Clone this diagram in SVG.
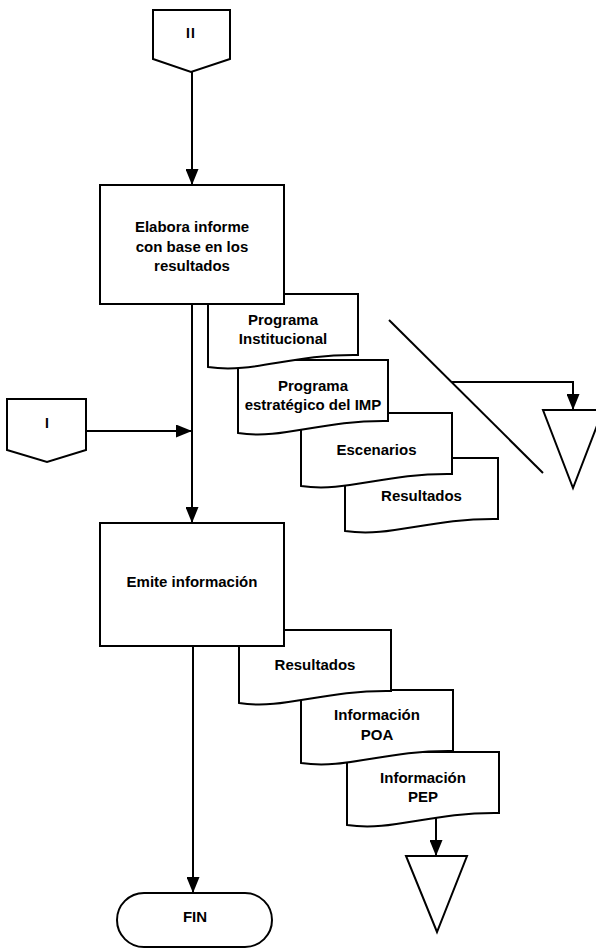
<svg xmlns="http://www.w3.org/2000/svg" width="596" height="950" viewBox="0 0 596 950">
  <style>
    .shape { fill: #ffffff; stroke: #000000; stroke-width: 2; stroke-linejoin: miter; }
    .line { fill: none; stroke: #000000; stroke-width: 2; }
    .arrow { marker-end: url(#head); }
    text { font-family: "Liberation Sans", Arial, sans-serif; font-weight: bold; font-size: 15px; fill: #000000; text-anchor: middle; }
    .conn-label { font-size: 14px; }
  </style>
  <defs>
    <marker id="head" markerUnits="userSpaceOnUse" viewBox="0 0 16 13" markerWidth="16" markerHeight="13" refX="16" refY="6.5" orient="auto">
      <path d="M0,0 L16,6.5 L0,13 Z" fill="#000000"/>
    </marker>
  </defs>

  <rect width="596" height="950" fill="#ffffff"/>

  <!-- connectors -->
  <g id="connectors">
    <path class="line arrow" d="M192,72 V185"/>
    <path class="line arrow" d="M192,304 V523"/>
    <path class="line arrow" d="M86,431 H192"/>
    <path class="line arrow" d="M193,646 V893"/>
    <path class="line" d="M389,320 L543,473"/>
    <path class="line arrow" d="M451,382 H573 V410"/>
    <path class="line arrow" d="M436,818 V856"/>
  </g>

  <!-- off-page connector II -->
  <g id="connector-II">
    <path class="shape" d="M153,10 H230 V59 L191,72 L153,59 Z"/>
    <text class="conn-label" x="191" y="38" letter-spacing="1">II</text>
  </g>

  <!-- document stack for the first step, drawn back to front -->
  <g id="doc-resultados-1">
    <path class="shape" d="M345,458 H498 V519 C429,518 391,538 345,531 Z"/>
    <text x="421.5" y="501">Resultados</text>
  </g>
  <g id="doc-escenarios">
    <path class="shape" d="M301,413 H452 V474 C384,473 346,493 301,486 Z"/>
    <text x="376.5" y="455">Escenarios</text>
  </g>
  <g id="doc-programa-estrategico">
    <path class="shape" d="M238,360 H388 V421 C320.5,420 283,440 238,433 Z"/>
    <text x="313" y="391">Programa</text>
    <text x="313" y="410">estratégico del IMP</text>
  </g>
  <g id="doc-programa-institucional">
    <path class="shape" d="M208,294 H358 V355 C290.5,354 253,374 208,367 Z"/>
    <text x="283" y="325">Programa</text>
    <text x="283" y="344">Institucional</text>
  </g>

  <!-- process: elabora informe -->
  <g id="box-elabora-informe">
    <rect class="shape" x="100" y="185" width="184" height="119"/>
    <text x="192" y="232">Elabora informe</text>
    <text x="192" y="252">con base en los</text>
    <text x="192" y="271">resultados</text>
  </g>

  <!-- storage triangle, upper right -->
  <g id="archive-1">
    <path class="shape" d="M543,410 H603 L573,488 Z"/>
  </g>

  <!-- off-page connector I -->
  <g id="connector-I">
    <path class="shape" d="M7,399 H86 V450 L47,462 L7,450 Z"/>
    <text class="conn-label" x="47" y="428">I</text>
  </g>

  <!-- document stack for the second step, drawn back to front -->
  <g id="doc-informacion-pep">
    <path class="shape" d="M347,752 H499 V813 C430.6,812 392.6,832 347,825 Z"/>
    <text x="423" y="783">Información</text>
    <text x="423" y="802">PEP</text>
  </g>
  <g id="doc-informacion-poa">
    <path class="shape" d="M301,690 H453 V751 C384.6,750 346.6,770 301,763 Z"/>
    <text x="377" y="720">Información</text>
    <text x="377" y="740">POA</text>
  </g>
  <g id="doc-resultados-2">
    <path class="shape" d="M239,630 H391 V691 C322.6,690 284.6,710 239,703 Z"/>
    <text x="315" y="670">Resultados</text>
  </g>

  <!-- process: emite informacion -->
  <g id="box-emite-informacion">
    <rect class="shape" x="100" y="523" width="184" height="123"/>
    <text x="192" y="587">Emite información</text>
  </g>

  <!-- storage triangle, lower -->
  <g id="archive-2">
    <path class="shape" d="M406,856 H467 L437,932 Z"/>
  </g>

  <!-- terminator -->
  <g id="terminator-fin">
    <rect class="shape" x="117" y="893" width="155" height="54" rx="27" ry="27"/>
    <text x="195" y="922">FIN</text>
  </g>
</svg>
